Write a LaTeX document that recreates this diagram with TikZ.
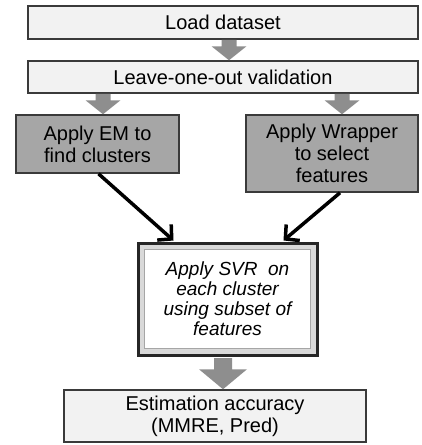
\documentclass[tikz,border=0pt]{standalone}
\usepackage{fontspec}
\setmainfont{Liberation Sans}
\usetikzlibrary{arrows.meta,calc}
\definecolor{lightbox}{HTML}{F2F2F2}
\definecolor{darkbox}{HTML}{A6A6A6}
\definecolor{edgecol}{HTML}{3A3A3A}
\definecolor{arrowgray}{HTML}{8E8E8E}
\newcommand\garrow[5]{%
  \fill[arrowgray] let \p1=#1, \p2=#2 in
    (\x1-#3,\y1) -- (\x1+#3,\y1) -- (\x1+#3,\y2+#5) -- (\x1+#4,\y2+#5)
    -- (\x1,\y2) -- (\x1-#4,\y2+#5) -- (\x1-#3,\y2+#5) -- cycle;}
\begin{document}
\begin{tikzpicture}[x=1pt,y=-1pt,
  txt/.style={font=\fontsize{20}{22}\selectfont, align=center, inner sep=0pt},
  lbox/.style={txt, draw=edgecol, line width=1.5pt, fill=lightbox},
  dbox/.style={txt, draw=edgecol, line width=1.5pt, fill=darkbox},
  blk/.style={line width=3.5pt, -{Straight Barb[length=10pt,width=21pt,line width=3.5pt]}}]
\useasboundingbox (0,0) rectangle (422,445);
\fill[white] (0,0) rectangle (422,445);
\node[lbox, minimum width=390pt, minimum height=33pt] (load) at (223,22.5) {Load dataset};
\node[lbox, minimum width=390pt, minimum height=32pt] (loo) at (223,77) {Leave-one-out validation};
\node[dbox, minimum width=163pt, minimum height=58pt] (em) at (97.5,144) {Apply EM to\\find clusters};
\node[dbox, minimum width=172pt, minimum height=77pt] (wr) at (332,153.5) {Apply Wrapper\\to select\\features};
% SVR box with double frame
\node[draw=black!85, line width=3pt, fill=black!15, minimum width=179pt, minimum height=112pt] (svr) at (227.5,299) {};
\fill[white, draw=black!35, line width=0.8pt] ($(svr.north west)+(8,8)$) rectangle ($(svr.south east)+(-8,-8)$);
\node[txt, font=\fontsize{19}{20}\selectfont\itshape] (svrt) at (svr.center) {Apply SVR\ \ on\\each cluster\\using subset of\\features};
\node[lbox, minimum width=302pt, minimum height=52pt] (est) at (215,416) {Estimation accuracy\\(MMRE, Pred)};
% gray block arrows
\coordinate (ta1) at ($(load.south)+(6,0)$);
\coordinate (ta2) at ($(loo.north)+(6,0)$);
\garrow{(ta1)}{(ta2)}{7.5pt}{17.5pt}{14pt}
\coordinate (la1) at ($(loo.south -| em.north)+(5.5,0)$);
\coordinate (la2) at ($(em.north)+(5.5,0)$);
\garrow{(la1)}{(la2)}{7.5pt}{17.5pt}{14pt}
\coordinate (ra1) at ($(loo.south -| wr.north)+(10,0)$);
\coordinate (ra2) at ($(wr.north)+(10,0)$);
\garrow{(ra1)}{(ra2)}{7.5pt}{17.5pt}{14pt}
\coordinate (ba1) at ($(svr.south)+(-4.5,1.5)$);
\coordinate (ba2) at ($(est.north)+(8,0)$);
\garrow{(ba1)}{(ba1 |- ba2)}{9pt}{24pt}{20pt}
% black arrows
\draw[blk] ($(em.south)+(1,0)$) -- ($(svr.north west)+(37,-1)$);
\draw[blk] ($(wr.south)+(8,0)$) -- ($(svr.north east)+(-35,-1)$);
\end{tikzpicture}
\end{document}
